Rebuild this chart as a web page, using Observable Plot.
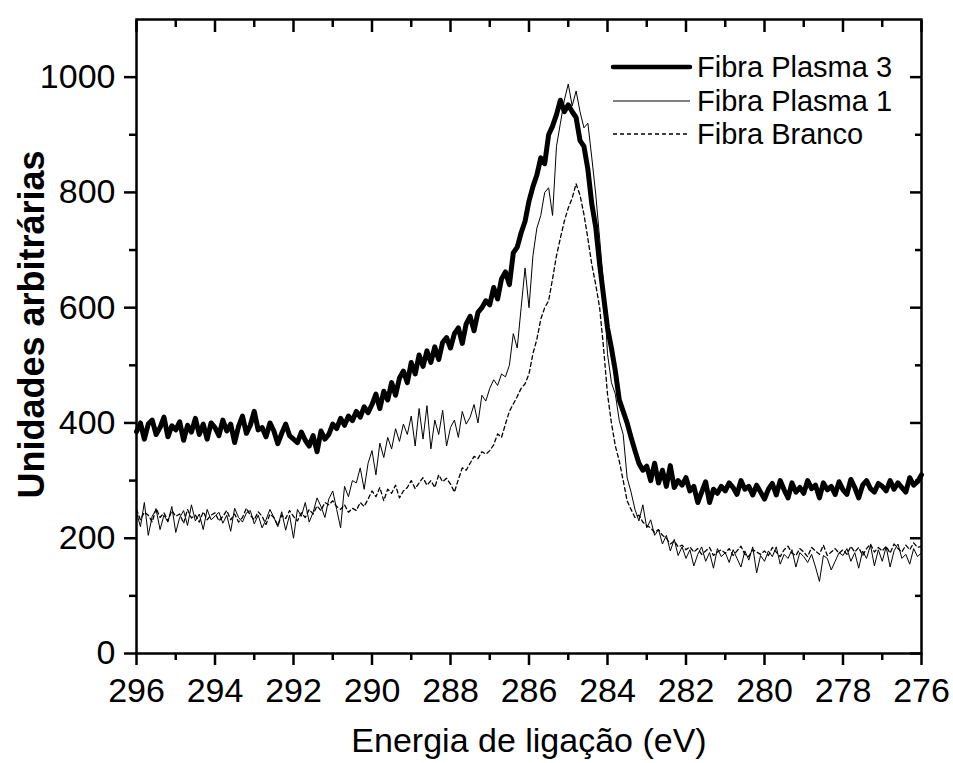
<!DOCTYPE html>
<html>
<head>
<meta charset="utf-8">
<script src="https://cdn.jsdelivr.net/npm/d3@7"></script>
<script src="https://cdn.jsdelivr.net/npm/@observablehq/plot@0.6"></script>
<style>
  body { margin: 0; background: white; }
  #wrap { position: relative; width: 953px; height: 763px; font-family: "Liberation Sans", Arial, sans-serif; }
  #legend { position: absolute; left: 0; top: 0; pointer-events: none; }
</style>
</head>
<body>
<div id="wrap"></div>
<script>
// Binding energy grid: 296.0 eV down to 276.0 eV, step 0.1 eV
const energyStart = 296;
const energyStep = 0.1;

// Fibra Plasma 3 (thick line)
const plasma3 = [
  385, 400, 372, 398, 405, 380, 392, 410, 376, 395,
  388, 402, 370, 396, 384, 408, 380, 398, 372, 400,
  392, 378, 405, 386, 398, 366, 394, 412, 382, 396,
  420, 388, 392, 376, 400, 386, 364, 382, 398, 378,
  372, 366, 384, 370, 360, 378, 350, 386, 372, 380,
  398, 390, 408, 396, 412, 404, 420, 410, 428, 418,
  432, 450, 425, 455, 440, 470, 448, 478, 490, 470,
  505, 485, 518, 498, 525, 505, 532, 510, 540, 548,
  530, 555, 565, 538, 572, 585, 560, 592, 600, 612,
  605, 635, 615, 650, 662, 640, 695, 705, 730, 750,
  785, 810, 830, 860, 850, 900, 915, 935, 960, 940,
  952, 940, 930, 890, 880, 840, 780, 740, 675, 620,
  565, 530, 490, 440, 420, 400, 375, 352, 330, 318,
  325, 300, 330, 296, 318, 290, 326, 288, 300, 292,
  305, 282, 290, 262, 280, 298, 262, 285, 278, 290,
  282, 296, 288, 276, 300, 285, 290, 275, 292, 280,
  268, 285, 295, 275, 300, 284, 270, 296, 280, 288,
  278, 300, 286, 292, 270, 296, 284, 290, 276, 298,
  284, 276, 302, 288, 270, 292, 300, 286, 280, 295,
  290, 282, 300, 285, 296, 288, 280, 305, 292, 298,
  310
];

// Fibra Plasma 1 (thin line)
const plasma1 = [
  245, 220, 262, 205, 238, 250, 215, 240, 228, 255,
  210, 236, 248, 222, 258, 230, 242, 215, 250, 232,
  238, 245, 226, 240, 212, 252, 236, 228, 244, 248,
  225, 240, 218, 232, 250, 236, 220, 246, 214, 240,
  200, 250, 238, 262, 228, 245, 270, 255, 236, 268,
  282, 250, 218, 290, 272, 300, 296, 322, 285, 330,
  352, 310, 365, 340, 375, 355, 390, 368, 398, 380,
  412, 360, 425, 372, 430, 355, 405, 380, 422, 360,
  392, 405, 375, 420, 398, 410, 432, 400, 448, 438,
  460, 475, 465, 485, 480, 500, 555, 530, 600, 669,
  600, 690, 738, 760, 800, 808, 760, 880, 920, 960,
  988, 950, 976, 940, 912, 920, 860, 797, 720, 640,
  520, 470, 450, 404, 380, 305, 280, 250, 230, 258,
  218, 232, 205, 215, 190, 205, 178, 198, 170, 185,
  165, 180, 152, 172, 185, 160, 175, 148, 182, 168,
  175, 158, 180, 165, 150, 178, 162, 185, 140, 170,
  160, 178, 168, 185, 155, 172, 165, 180, 150, 175,
  168, 158, 172, 150, 125, 170, 165, 145, 160, 175,
  170, 182, 160, 175, 148, 178, 165, 188, 152, 180,
  160, 185, 150, 178, 190, 165, 172, 155, 182, 168,
  175
];

// Fibra Branco (dashed line)
const branco = [
  250, 232, 245, 240, 228, 252, 236, 244, 230, 248,
  238, 242, 226, 250, 235, 240, 228, 246, 232, 240,
  244, 230, 238, 248, 232, 242, 228, 236, 252, 240,
  232, 246, 238, 224, 242, 236, 222, 240, 234, 248,
  238, 230, 244, 236, 250, 242, 256, 248, 262, 258,
  265, 255, 250, 258, 245, 252, 248, 262, 255, 268,
  282, 272, 288, 265, 285, 278, 292, 270, 282, 288,
  300, 286, 296, 305, 292, 300, 288, 310, 298, 304,
  294, 280, 302, 322, 318, 330, 342, 338, 350, 346,
  352, 362, 381, 375, 398, 420, 433, 446, 460, 468,
  485, 520, 545, 580, 600, 612, 650, 690, 721, 750,
  773, 790, 815, 795, 762, 720, 675, 640, 600, 530,
  450, 400, 360, 334, 300, 265, 250, 236, 240, 228,
  222, 218, 210, 215, 205, 200, 190, 195, 185, 188,
  180, 185, 176, 182, 172, 178, 184, 170, 176, 180,
  174, 182, 170, 178, 186, 172, 168, 180, 176, 172,
  178, 170, 184, 176, 168, 180, 186, 174, 170, 182,
  176, 168, 184, 178, 172, 188, 170, 176, 182, 174,
  180, 172, 186, 176, 184, 170, 182, 190, 176, 184,
  178, 186, 174, 190, 182, 176, 188, 180, 192, 184,
  186
];

const seriesNames = ["Fibra Plasma 3", "Fibra Plasma 1", "Fibra Branco"];
const xMajorTicks = [296, 294, 292, 290, 288, 286, 284, 282, 280, 278, 276];
const xMinorTicks = [295, 293, 291, 289, 287, 285, 283, 281, 279, 277];
const yMajorTicks = [0, 200, 400, 600, 800, 1000];
const yMinorTicks = [100, 300, 500, 700, 900];
const xTitle = "Energia de ligação (eV)";
const yTitle = "Unidades arbitrárias";

const toRows = (vals) => vals.map((v, i) => ({E: +(energyStart - i * energyStep).toFixed(2), v}));
const rows3 = toRows(plasma3);
const rows1 = toRows(plasma1);
const rowsB = toRows(branco);

const AX = 2.5;
const blank = () => "";
const plain = (d) => String(d);

const chart = Plot.plot({
  width: 953,
  height: 763,
  marginLeft: 136,
  marginRight: 32,
  marginTop: 19,
  marginBottom: 110,
  x: {domain: [296, 276], label: null},
  y: {domain: [0, 1100], label: null},
  style: {fontFamily: "'Liberation Sans', Arial, sans-serif", background: "white", color: "black", overflow: "visible"},
  marks: [
    Plot.line(rowsB, {x: "E", y: "v", stroke: "black", strokeWidth: 1.3, strokeDasharray: "4,3"}),
    Plot.line(rows1, {x: "E", y: "v", stroke: "black", strokeWidth: 1}),
    Plot.line(rows3, {x: "E", y: "v", stroke: "black", strokeWidth: 5, strokeLinejoin: "round", strokeLinecap: "round"}),
    Plot.frame({stroke: "black", strokeWidth: AX}),
    Plot.axisX(xMajorTicks, {anchor: "bottom", tickSize: 12, tickPadding: 12, fontSize: 34, tickFormat: plain, strokeWidth: AX, label: null}),
    Plot.axisX(xMinorTicks, {anchor: "bottom", tickSize: 7, tickFormat: blank, strokeWidth: AX, label: null}),
    Plot.axisX(xMajorTicks, {anchor: "top", tickSize: -12, tickFormat: blank, strokeWidth: AX, label: null}),
    Plot.axisX(xMinorTicks, {anchor: "top", tickSize: -7, tickFormat: blank, strokeWidth: AX, label: null}),
    Plot.axisY(yMajorTicks, {anchor: "left", tickSize: 12, tickPadding: 9, fontSize: 34, tickFormat: plain, strokeWidth: AX, label: null}),
    Plot.axisY(yMinorTicks, {anchor: "left", tickSize: 7, tickFormat: blank, strokeWidth: AX, label: null}),
    Plot.axisY(yMajorTicks, {anchor: "right", tickSize: -12, tickFormat: blank, strokeWidth: AX, label: null}),
    Plot.axisY(yMinorTicks, {anchor: "right", tickSize: -7, tickFormat: blank, strokeWidth: AX, label: null}),
    Plot.text([xTitle], {text: d => d, frameAnchor: "bottom", textAnchor: "middle", lineAnchor: "middle", dy: 88, fontSize: 34}),
    Plot.text([yTitle], {text: d => d, frameAnchor: "left", textAnchor: "middle", lineAnchor: "middle", rotate: -90, dx: -104, dy: -12, fontSize: 36, fontWeight: "bold"})
  ]
});

const wrap = document.getElementById("wrap");
wrap.appendChild(chart);

// Legend (inside plot area, top right)
const legendStyles = [
  {w: 4.5, dash: null},
  {w: 1, dash: null},
  {w: 1.3, dash: "4,3"}
];
const ns = "http://www.w3.org/2000/svg";
const lg = document.createElementNS(ns, "svg");
lg.setAttribute("id", "legend");
lg.setAttribute("width", 953);
lg.setAttribute("height", 763);
const rowY = [67, 101, 134];
seriesNames.forEach((name, i) => {
  const ln = document.createElementNS(ns, "line");
  ln.setAttribute("x1", 613); ln.setAttribute("x2", 690);
  ln.setAttribute("y1", rowY[i]); ln.setAttribute("y2", rowY[i]);
  ln.setAttribute("stroke", "black");
  ln.setAttribute("stroke-width", legendStyles[i].w);
  if (legendStyles[i].dash) ln.setAttribute("stroke-dasharray", legendStyles[i].dash);
  if (i === 0) ln.setAttribute("stroke-linecap", "round");
  lg.appendChild(ln);
  const tx = document.createElementNS(ns, "text");
  tx.setAttribute("x", 697);
  tx.setAttribute("y", rowY[i]);
  tx.setAttribute("dy", "0.35em");
  tx.setAttribute("font-size", 29);
  tx.setAttribute("font-family", "'Liberation Sans', Arial, sans-serif");
  tx.textContent = name;
  lg.appendChild(tx);
});
wrap.appendChild(lg);
</script>
</body>
</html>
